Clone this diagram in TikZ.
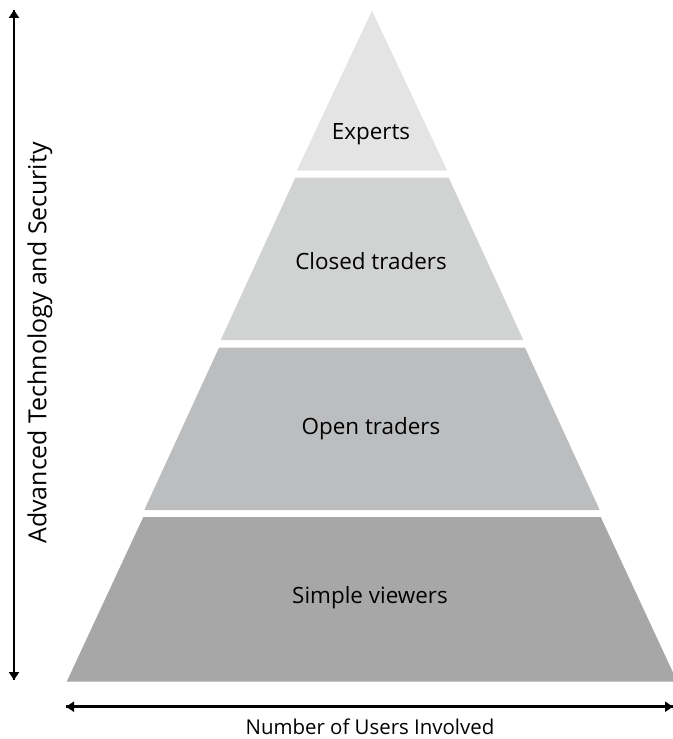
\documentclass[tikz,border=0pt]{standalone}
\usepackage{fontspec}
\setmainfont{Open Sans}
\usetikzlibrary{arrows.meta}
\definecolor{lone}{RGB}{228,228,228}
\definecolor{ltwo}{RGB}{209,210,210}
\definecolor{lthree}{RGB}{188,189,191}
\definecolor{lfour}{RGB}{167,167,167}
\tikzset{
  lbl/.style={font=\fontsize{22.5}{26}\selectfont, text=black, inner sep=0pt},
  axlbl/.style={font=\fontsize{20.5}{24}\selectfont, text=black, inner sep=0pt},
  axis/.style={line width=2.6bp, -{Triangle[length=8bp,width=10bp]}},
}
\begin{document}
\begin{tikzpicture}[x=1bp,y=-1bp]
\useasboundingbox (0,0) rectangle (673,739);
\begin{scope}
\clip (0,0) rectangle (673,739);
\fill[lone]   (372,10.7) -- (447.3,170.7) -- (296.7,170.7) -- cycle;
\fill[ltwo]   (295.3,177.7) -- (448.7,177.7) -- (523.3,340) -- (220.7,340) -- cycle;
\fill[lthree] (219,347.7) -- (525,347.7) -- (599.7,510) -- (144.3,510) -- cycle;
\fill[lfour]  (143.3,517) -- (600.7,517) -- (677.3,681.7) -- (66.7,681.7) -- cycle;
\end{scope}
\node[lbl] (experts) at (371,134) {Experts};
\node[lbl] (closed) at (371,261) {Closed traders};
\node[lbl] (open) at (371,429) {Open traders};
\node[lbl] (simple) at (370,598) {Simple viewers};
\coordinate (vtop) at (14,10);
\coordinate (vbot) at (14,680);
\coordinate (hleft) at (66,706.7);
\coordinate (hright) at (673,706.7);
\draw[axis] (vtop) -- (vbot);
\draw[axis] (vbot) -- (vtop);
\draw[axis] (hleft) -- (hright);
\draw[axis] (hright) -- (hleft);
\node[axlbl, font=\fontsize{25}{28}\selectfont, rotate=90] (ylabel) at (40,343) {Advanced Technology and Security};
\node[axlbl, anchor=base] (xlabel) at (370,734) {Number of Users Involved};
\end{tikzpicture}
\end{document}
